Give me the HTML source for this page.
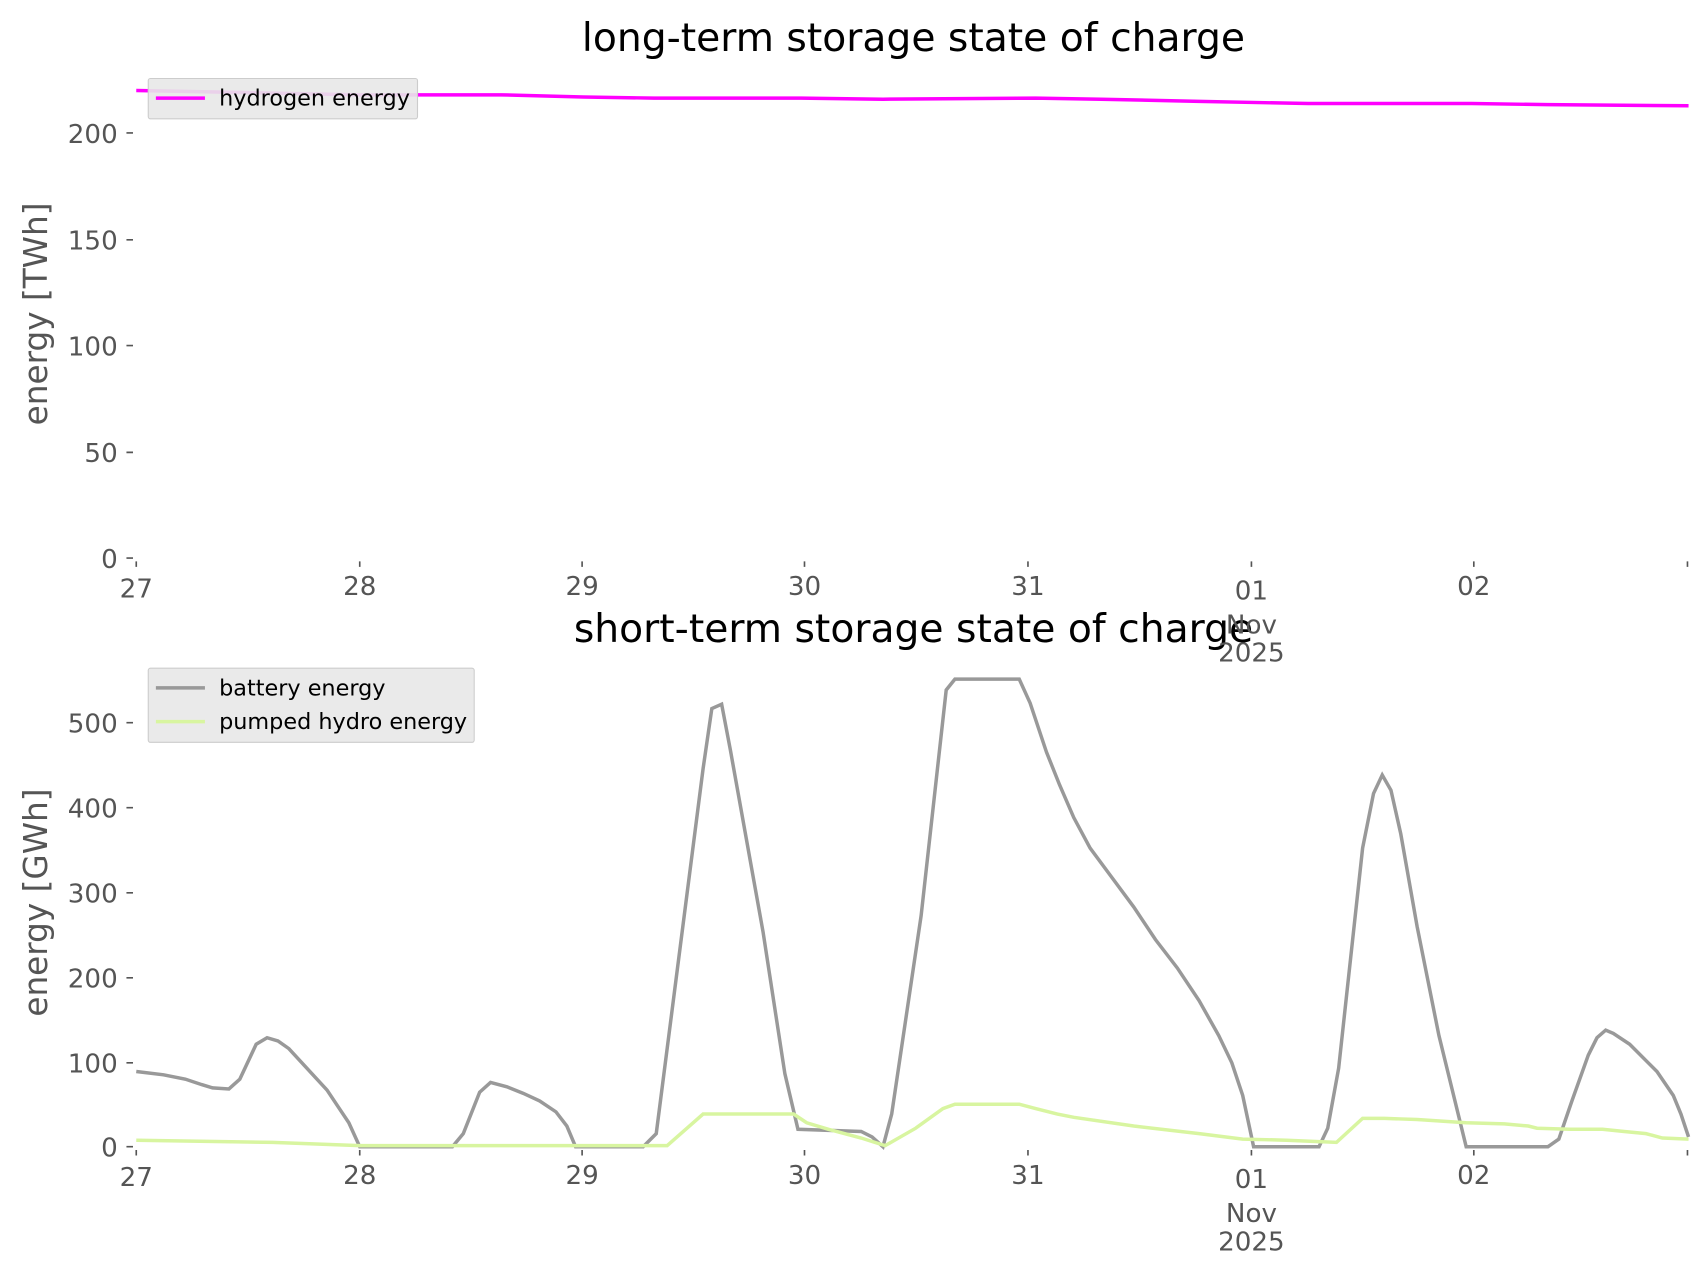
<!DOCTYPE html>
<html><head><style>body{margin:0;background:#fff}svg{display:block}</style></head><body>
<svg width="1706" height="1277" viewBox="0 0 1565 1171.5" preserveAspectRatio="none" xmlns="http://www.w3.org/2000/svg" font-family="DejaVu Sans, Liberation Sans, sans-serif">
<g font-size="36" fill="#000" text-anchor="middle">
<text x="838" y="47">long-term storage state of charge</text>
<text x="838" y="589">short-term storage state of charge</text>
</g>
<g font-size="30" fill="#555" text-anchor="middle">
<text transform="translate(43,288) rotate(-90)">energy [TWh]</text>
<text transform="translate(43,828) rotate(-90)">energy [GWh]</text>
</g>
<g stroke="#555" stroke-width="1.5">
<path d="M116 122H122M116 220H122M116 317H122M116 415H122M116 512H122"/>
<path d="M116 663H122M116 741H122M116 819H122M116 897H122M116 975H122M116 1052H122"/>
<path d="M125 515V520M330 515V520M534 515V520M738 515V520M943 515V520M1148 515V520M1352 515V520M1548 515V520"/>
<path d="M125 1055V1060M330 1055V1060M534 1055V1060M738 1055V1060M943 1055V1060M1148 1055V1060M1352 1055V1060M1548 1055V1060"/>
</g>
<g font-size="24" fill="#555" text-anchor="end">
<text x="108" y="131">200</text><text x="108" y="229">150</text><text x="108" y="326">100</text><text x="108" y="424">50</text><text x="108" y="521">0</text>
<text x="108" y="672">500</text><text x="108" y="750">400</text><text x="108" y="828">300</text><text x="108" y="906">200</text><text x="108" y="984">100</text><text x="108" y="1061">0</text>
</g>
<g font-size="24" fill="#555" text-anchor="middle">
<text x="125" y="548">27</text><text x="330" y="546">28</text><text x="534" y="546">29</text><text x="738" y="546">30</text><text x="943" y="546">31</text><text x="1148" y="550">01</text><text x="1148" y="581">Nov</text><text x="1148" y="607">2025</text><text x="1352" y="546">02</text>
<text x="125" y="1088">27</text><text x="330" y="1086">28</text><text x="534" y="1086">29</text><text x="738" y="1086">30</text><text x="943" y="1086">31</text><text x="1148" y="1090">01</text><text x="1148" y="1121">Nov</text><text x="1148" y="1147">2025</text><text x="1352" y="1086">02</text>
</g>
<polyline fill="none" stroke="#ff00ff" stroke-width="3.2" points="125,83 330,87 460,87 535,89 600,90 735,90 810,91 950,90 1010,91 1100,93 1200,95 1350,95 1420,96 1549,97"/>
<polyline fill="none" stroke="#999" stroke-width="3.2" points="125,983 150,986 170,990 185,995 195,998 210,999 220,990 235,958 245,952 255,955 265,962 300,1000 310,1015 320,1030 330,1052 415,1052 425,1040 440,1002 450,993 465,997 480,1003 495,1010 510,1020 520,1033 528,1052 590,1052 602,1040 645,705 653,650 662,646 670,688 700,855 720,985 732,1036 790,1038 800,1043 810,1052 818,1022 845,840 868,633 876,623 935,623 945,645 960,690 972,720 985,750 1000,778 1020,805 1040,832 1060,862 1080,888 1100,918 1118,950 1130,975 1140,1005 1150,1052 1210,1052 1218,1035 1228,980 1250,778 1260,728 1268,711 1276,725 1285,765 1300,850 1320,950 1345,1052 1420,1052 1430,1045 1442,1010 1457,968 1465,952 1473,945 1480,948 1495,958 1512,975 1520,983 1535,1005 1542,1022 1549,1043"/>
<polyline fill="none" stroke="#d8f5a0" stroke-width="3.2" points="125,1046 250,1048 330,1051 612,1051 645,1022 728,1022 740,1030 760,1036 790,1044 812,1051 840,1035 865,1017 876,1013 935,1013 950,1017 970,1022 985,1025 1040,1033 1100,1040 1140,1045 1180,1046 1226,1048 1250,1026 1270,1026 1300,1027 1345,1030 1380,1031 1402,1033 1410,1035 1440,1036 1470,1036 1490,1038 1510,1040 1525,1044 1549,1045"/>
<rect x="136" y="72" width="247" height="37" rx="2" fill="#e8e8e8" fill-opacity="0.9" stroke="#ccc"/>
<line x1="143" y1="90" x2="188" y2="90" stroke="#ff00ff" stroke-width="3.2"/>
<text x="201" y="97" font-size="20.5" fill="#000">hydrogen energy</text>
<rect x="136" y="613" width="299" height="68" rx="2" fill="#e8e8e8" fill-opacity="0.9" stroke="#ccc"/>
<line x1="143" y1="631" x2="188" y2="631" stroke="#999" stroke-width="3.2"/>
<text x="201" y="638" font-size="20.5" fill="#000">battery energy</text>
<line x1="143" y1="662" x2="188" y2="662" stroke="#d8f5a0" stroke-width="3.2"/>
<text x="201" y="669" font-size="20.5" fill="#000">pumped hydro energy</text>
</svg>
</body></html>
